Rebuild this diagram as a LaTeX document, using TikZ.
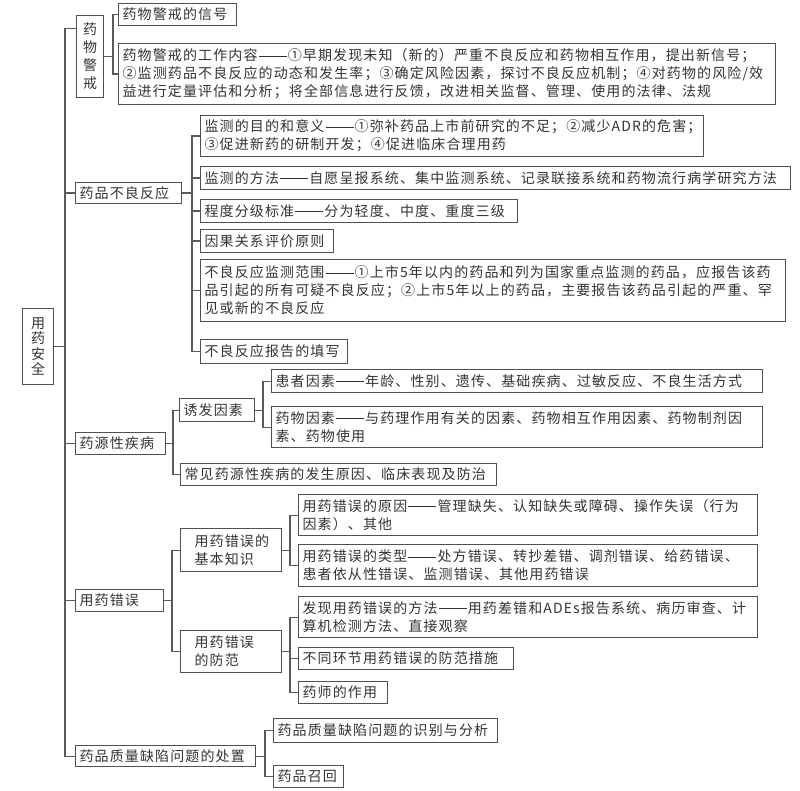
\documentclass[tikz,border=0pt]{standalone}
\usepackage{fontspec}
\usepackage{tikz}
\usetikzlibrary{calc}
\newfontfamily\cjk[LetterSpace=8]{Noto Sans CJK SC}
\newcommand\ddash{\hspace{0.08em}\rule[0.33em]{2em}{0.7pt}\hspace{0.08em}}
\definecolor{boxline}{HTML}{505050}
\definecolor{wire}{HTML}{5A5A5A}
\definecolor{ink}{HTML}{333333}

\begin{document}
\begin{tikzpicture}[x=1pt, y=-1pt,
    box/.style={draw=boxline, line width=1.2pt, anchor=north west, inner xsep=4pt, inner ysep=0pt,
      align=left, text=ink, font=\cjk\fontsize{14}{18}\selectfont},
    vbox/.style={box, align=center, inner xsep=0pt},
    link/.style={draw=wire, line width=1.2pt}]
        \useasboundingbox (0,0) rectangle (800,791);
        % bracket columns
        \coordinate(trunk) at (65,0);
        \coordinate(b1) at (113,0);
        \coordinate(b2) at (192,0);
        \coordinate(b3) at (173,0);
        \coordinate(b31) at (263,0);
        \coordinate(b4) at (172,0);
        \coordinate(b41) at (290,0);
        \coordinate(b5) at (265,0);

        % root
        \node[vbox, text width=31, minimum height=76, font=\cjk\fontsize{14}{15.5}\selectfont] (root) at (22,308) {用\\药\\安\\全};

        % pharmacovigilance
        \node[vbox, text width=27, minimum height=82] (n1) at (76,15) {药\\物\\警\\戒};
        \node[box, text width=110, minimum height=22] (n1a) at (118,3) {药物警戒的信号};
        \node[box, text width=649, minimum height=61] (n1b) at (118,43) {药物警戒的工作内容\ddash{}①早期发现未知（新的）严重不良反应和药物相互作用，提出新信号；\\②监测药品不良反应的动态和发生率；③确定风险因素，探讨不良反应机制；④对药物的风险/效\\益进行定量评估和分析；将全部信息进行反馈，改进相关监督、管理、使用的法律、法规};

        % adverse reactions
        \node[box, text width=98, minimum height=21] (n2) at (75,182) {药品不良反应};
        \node[box, text width=495, minimum height=41] (n2a) at (200,115) {监测的目的和意义\ddash{}①弥补药品上市前研究的不足；②减少ADR的危害；\\③促进新药的研制开发；④促进临床合理用药};
        \node[box, text width=582, minimum height=23] (n2b) at (200,166) {监测的方法\ddash{}自愿呈报系统、集中监测系统、记录联接系统和药物流行病学研究方法};
        \node[box, text width=309, minimum height=23] (n2c) at (200,199) {程度分级标准\ddash{}分为轻度、中度、重度三级};
        \node[box, text width=125, minimum height=23] (n2d) at (200,229) {因果关系评价原则};
        \node[box, text width=577, minimum height=62] (n2e) at (200,259) {不良反应监测范围\ddash{}①上市5年以内的药品和列为国家重点监测的药品，应报告该药\\品引起的所有可疑不良反应；②上市5年以上的药品，主要报告该药品引起的严重、罕\\见或新的不良反应};
        \node[box, text width=139, minimum height=24] (n2f) at (200,339) {不良反应报告的填写};

        % drug-induced disease
        \node[box, text width=82, minimum height=22] (n3) at (75,432) {药源性疾病};
        \node[box, text width=67, minimum height=23] (n3a) at (179,398) {诱发因素};
        \node[box, text width=483, minimum height=23] (n3a1) at (271,369) {患者因素\ddash{}年龄、性别、遗传、基础疾病、过敏反应、不良生活方式};
        \node[box, text width=483, minimum height=41] (n3a2) at (271,406) {药物因素\ddash{}与药理作用有关的因素、药物相互作用因素、药物制剂因\\素、药物使用};
        \node[box, text width=308, minimum height=22] (n3b) at (180,463) {常见药源性疾病的发生原因、临床表现及防治};

        % medication errors
        \node[box, text width=80, minimum height=22] (n4) at (75,589) {用药错误};
        \node[box, text width=73, minimum width=101, minimum height=43] (n4a) at (180,528) {用药错误的\\基本知识};
        \node[box, text width=451, minimum height=41] (n4a1) at (298,494) {用药错误的原因\ddash{}管理缺失、认知缺失或障碍、操作失误（行为\\因素）、其他};
        \node[box, text width=451, minimum height=42] (n4a2) at (298,544) {用药错误的类型\ddash{}处方错误、转抄差错、调剂错误、给药错误、\\患者依从性错误、监测错误、其他用药错误};
        \node[box, text width=73, minimum width=101, minimum height=42] (n4b) at (180,630) {用药错误\\的防范};
        \node[box, text width=451, minimum height=41] (n4b1) at (298,596) {发现用药错误的方法\ddash{}用药差错和ADEs报告系统、病历审查、计\\算机检测方法、直接观察};
        \node[box, text width=207, minimum height=22] (n4b2) at (298,647) {不同环节用药错误的防范措施};
        \node[box, text width=81, minimum height=22] (n4b3) at (298,681) {药师的作用};

        % quality defects
        \node[box, text width=172, minimum height=21] (n5) at (75,745) {药品质量缺陷问题的处置};
        \node[box, text width=216, minimum height=24] (n5a) at (273,718) {药品质量缺陷问题的识别与分析};
        \node[box, text width=62, minimum height=22] (n5b) at (273,765) {药品召回};

        % trunk
        \path[link] (root.east) -- (root.east -| trunk) |- ([yshift=28pt]n1.west);
        \foreach \c in {n2,n3,n4,n5}
          \path[link] (root.east -| trunk) |- (\c.west);
        % branches
        \foreach \c in {n1a,n1b}
          \path[link] (n1.east) -- (n1.east -| b1) |- (\c.west);
        \foreach \c in {n2a,n2b,n2c,n2d,n2e,n2f}
          \path[link] (n2.east) -- (n2.east -| b2) |- (\c.west);
        \foreach \c in {n3a,n3b}
          \path[link] (n3.east) -- (n3.east -| b3) |- (\c.west);
        \foreach \c in {n3a1,n3a2}
          \path[link] (n3a.east) -- (n3a.east -| b31) |- (\c.west);
        \foreach \c in {n4a,n4b}
          \path[link] (n4.east) -- (n4.east -| b4) |- (\c.west);
        \foreach \c in {n4a1,n4a2}
          \path[link] (n4a.east) -- (n4a.east -| b41) |- (\c.west);
        \foreach \c in {n4b1,n4b2,n4b3}
          \path[link] (n4b.east) -- (n4b.east -| b41) |- (\c.west);
        \foreach \c in {n5a,n5b}
          \path[link] (n5.east) -- (n5.east -| b5) |- (\c.west);
\end{tikzpicture}
\end{document}
